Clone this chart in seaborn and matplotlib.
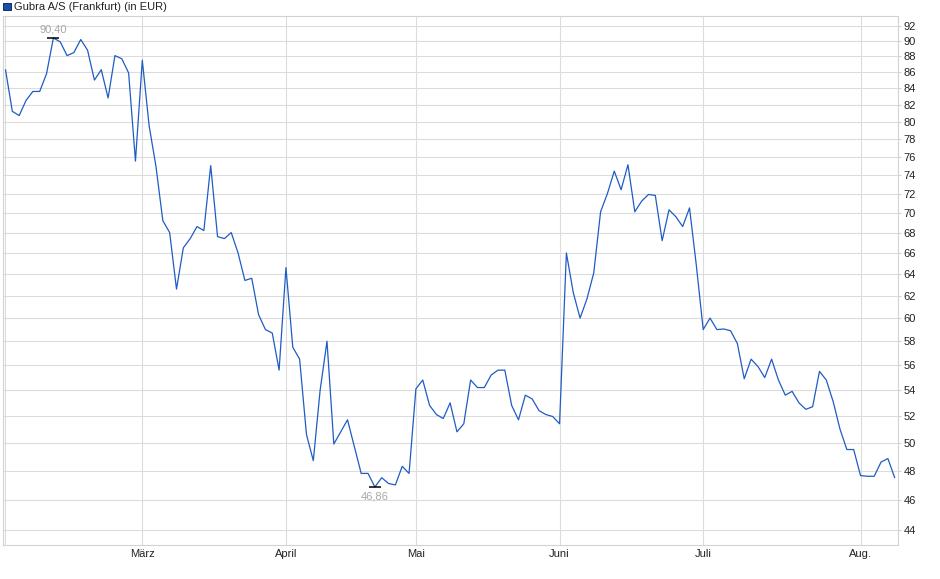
import matplotlib
matplotlib.use("Agg")
import matplotlib.pyplot as plt
import matplotlib.ticker as mticker
from matplotlib.patches import Rectangle
import numpy as np
import pandas as pd
import seaborn as sns

# ---- data -------------------------------------------------------------
title = "Gubra A/S (Frankfurt) (in EUR)"
month_labels = ["Feb", "März", "April", "Mai", "Juni", "Juli", "Aug."]
trading_days_per_month = [20, 21, 19, 21, 21, 23, 6]

prices = [
    86.3, 81.2, 80.7, 82.5, 83.6, 83.6, 85.8, 90.4, 89.9, 88.1,
    88.5, 90.2, 88.8, 85.0, 86.3, 82.8, 88.1, 87.7, 85.9, 75.5,
    87.5, 79.5, 74.9, 69.2, 68.0, 62.6, 66.5, 67.4, 68.6, 68.2,
    75.0, 67.6, 67.4, 68.0, 66.0, 63.4, 63.6, 60.3, 59.0, 58.7,
    55.6, 64.6, 57.5, 56.5, 50.6, 48.7, 54.0, 58.0, 49.9, 50.8,
    51.7, 49.7, 47.8, 47.8, 46.86, 47.5, 47.1, 47.0, 48.3, 47.8,
    54.1, 54.8, 52.8, 52.1, 51.8, 53.0, 50.8, 51.4, 54.8, 54.2,
    54.2, 55.2, 55.6, 55.6, 52.8, 51.7, 53.6, 53.3, 52.4, 52.1,
    51.95, 51.4, 66.0, 62.3, 60.0, 61.7, 64.1, 70.1, 72.0, 74.4,
    72.4, 75.1, 70.1, 71.2, 71.9, 71.8, 67.2, 70.3, 69.6, 68.6,
    70.5, 64.8, 59.0, 60.0, 59.0, 59.05, 58.9, 57.8, 54.9, 56.5,
    55.9, 55.0, 56.5, 54.8, 53.6, 53.9, 53.0, 52.5, 52.7, 55.5,
    54.8, 53.1, 51.0, 49.5, 49.5, 47.65, 47.6, 47.6, 48.6, 48.85,
    47.5,
]
y_ticks = list(range(44, 93, 2))

# ---- figure -----------------------------------------------------------
sns.set_style("white")
plt.rcParams["font.family"] = ["Liberation Sans", "DejaVu Sans"]

W, H = 940, 579
FS = 8.0
fig = plt.figure(figsize=(W / 100, H / 100), dpi=100)
ax = fig.add_axes([3 / W, (H - 545) / H, (898 - 3) / W, (545 - 16) / H])

df = pd.DataFrame({"idx": np.arange(len(prices)), "price": prices})
sns.lineplot(data=df, x="idx", y="price", ax=ax, color="#1f5cc4",
             linewidth=0.9, zorder=3)

ax.set_yscale("log")
ax.set_ylim(43.045, 93.36)
ax.set_xlim(-0.365, len(prices) - 1 + 0.48)

ax.yaxis.set_major_locator(mticker.FixedLocator(y_ticks))
ax.yaxis.set_major_formatter(mticker.FixedFormatter([str(v) for v in y_ticks]))
ax.yaxis.set_minor_locator(mticker.NullLocator())
ax.yaxis.tick_right()
ax.tick_params(axis="y", which="major", length=2.2, width=0.7, color="#cfcfcf",
               pad=2, labelsize=FS, labelcolor="#222222")

starts = np.cumsum([0] + trading_days_per_month[:-1])
ax.set_xticks(starts[1:])
ax.set_xticklabels(month_labels[1:])
ax.xaxis.set_minor_locator(mticker.FixedLocator([0]))
ax.tick_params(axis="x", which="both", length=0, pad=3, labelsize=FS,
               labelcolor="#222222")

ax.grid(True, which="major", color="#dcdcdc", linewidth=0.8)
ax.grid(True, which="minor", axis="x", color="#dcdcdc", linewidth=0.8)
ax.set_axisbelow(True)
for s in ax.spines.values():
    s.set_color("#d2d2d2")
    s.set_linewidth(0.8)
ax.set_xlabel("")
ax.set_ylabel("")

# high / low markers
i_hi = int(np.argmax(prices))
i_lo = int(np.argmin(prices))
for i, dy, va in [(i_hi, 2.5, "bottom"), (i_lo, -3.5, "top")]:
    ax.plot([i], [prices[i]], marker="_", markersize=8, markeredgewidth=1.1,
            color="black", zorder=4)
    ax.annotate(f"{prices[i]:.2f}".replace(".", ","), (i, prices[i]),
                xytext=(0, dy), textcoords="offset points",
                ha="center", va=va, fontsize=FS, color="#a8a8a8")

# legend-like title
fig.patches.append(Rectangle((3.3 / W, 1 - 10.2 / H), 7.2 / W, 7.2 / H,
                             transform=fig.transFigure, facecolor="#1a4fa8",
                             edgecolor="#0d2f70", linewidth=0.7))
fig.text(14.5 / W, 1 - 6.5 / H, title, ha="left", va="center", fontsize=FS,
         color="#222222")

fig.savefig("out.png", dpi=100)
